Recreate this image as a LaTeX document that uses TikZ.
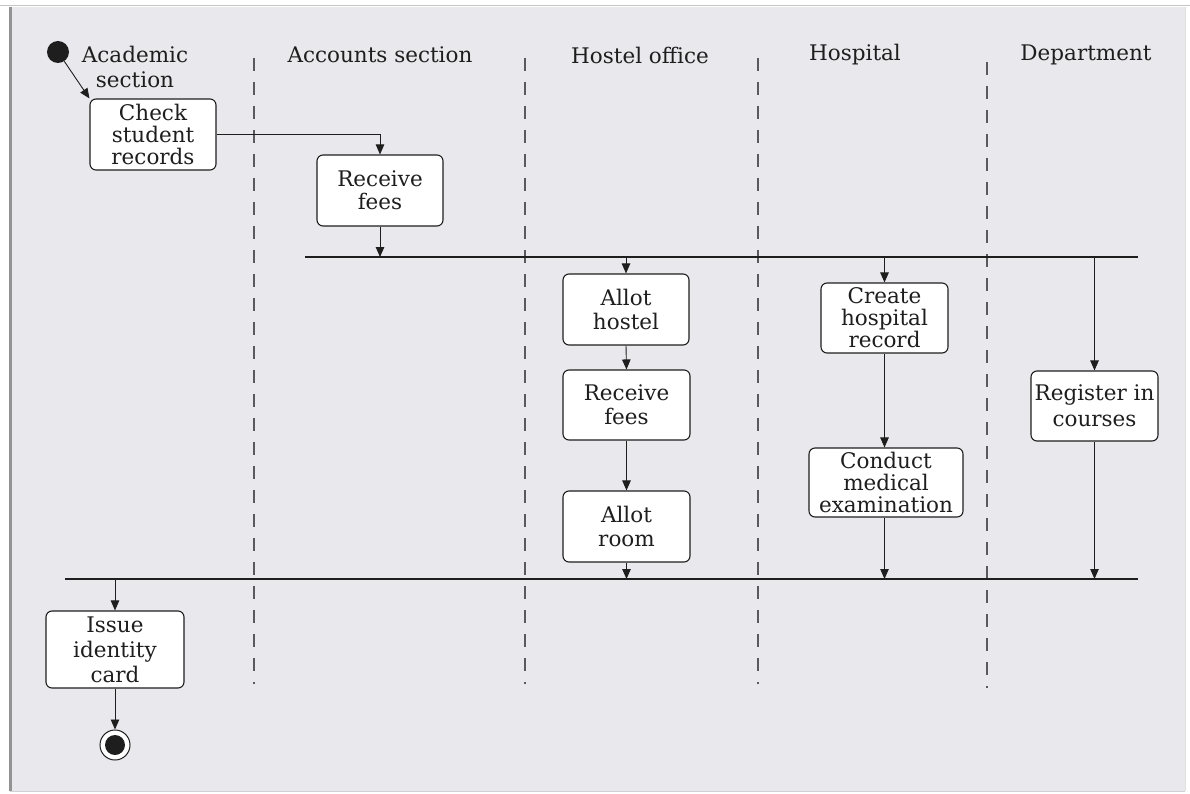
\documentclass[tikz,border=0pt]{standalone}
\usepackage{fontspec}
\setmainfont{DejaVu Serif}
\usetikzlibrary{arrows.meta}
\definecolor{bgc}{RGB}{233,232,236}
\definecolor{ink}{RGB}{30,30,30}
\definecolor{lanec}{RGB}{90,90,93}
\begin{document}
\begin{tikzpicture}[x=1pt,y=-1pt,
  act/.style={draw=ink, line width=1.1pt, fill=white, rounded corners=6pt, align=center, inner sep=0pt, font=\fontsize{21.5}{22}\selectfont, text=ink},
  hdr/.style={align=center, inner sep=0pt, font=\fontsize{21.5}{25}\selectfont, text=ink},
  flow/.style={draw=ink, line width=0.9pt, -{Triangle[length=10pt,width=8.5pt]}},
  lane/.style={draw=lanec, line width=1.3pt, dash pattern=on 13pt off 11pt},
  bar/.style={draw=ink, line width=1.8pt},
]
\useasboundingbox (0,0) rectangle (1190,794);
% frame
\fill[white] (0,0) rectangle (1190,794);
\fill[bgc] (10,7) rectangle (1185,791);
\draw[gray!45, line width=1pt] (0,5.5) -- (1190,5.5);
\draw[gray!85, line width=3.5pt] (10.5,7) -- (10.5,791);
\draw[gray!25, line width=1pt] (1185,7) -- (1185,791);
\draw[gray!35, line width=1pt] (10,791) -- (1185,791);

% swimlane separators
\draw[lane] (254,58) -- (254,684);
\draw[lane] (525,58) -- (525,684);
\draw[lane] (758,58) -- (758,684);
\draw[lane] (987,62) -- (987,688);

% headers
\node[hdr] (hAc) at (135,67) {Academic\\section};
\node[hdr] (hAcc) at (380,55) {Accounts section};
\node[hdr] (hHo) at (640,55) {Hostel office};
\node[hdr] (hHp) at (855,55) {Hospital};
\node[hdr] (hDp) at (1086,55) {Department};

% initial and final
\node[circle, fill=ink, minimum size=22pt, inner sep=0pt] (init) at (58,52) {};
\node[circle, draw=ink, line width=1pt, fill=white, minimum size=30pt, inner sep=0pt] (final) at (115,745) {};
\fill[ink] (final.center) circle (10pt);

% activities
\node[act, minimum width=126pt, minimum height=71pt] (check) at (153,134.5) {Check\\student\\records};
\node[act, minimum width=126pt, minimum height=71pt, font=\fontsize{21.5}{23}\selectfont] (recv1) at (380,190.5) {Receive\\fees};
\node[act, minimum width=126pt, minimum height=71pt, font=\fontsize{21.5}{24}\selectfont] (hostel) at (626,309.5) {Allot\\hostel};
\node[act, minimum width=127pt, minimum height=70pt, font=\fontsize{21.5}{24}\selectfont] (recv2) at (626.5,405) {Receive\\fees};
\node[act, minimum width=127pt, minimum height=71pt, font=\fontsize{21.5}{24}\selectfont] (room) at (626.5,526.5) {Allot\\room};
\node[act, minimum width=127pt, minimum height=70pt] (hosprec) at (884.5,318) {Create\\hospital\\record};
\node[act, minimum width=154pt, minimum height=69pt] (exam) at (886,482.5) {Conduct\\medical\\examination};
\node[act, minimum width=127pt, minimum height=70pt, font=\fontsize{21.5}{26}\selectfont] (register) at (1094.5,406) {Register in\\courses};
\node[act, minimum width=138pt, minimum height=77pt, font=\fontsize{21.5}{25}\selectfont] (issue) at (115,649.5) {Issue\\identity\\card};

% fork / join bars
\coordinate (b1L) at (305,257);
\coordinate (b1R) at (1138,257);
\coordinate (b2L) at (65,579);
\coordinate (b2R) at (1138,579);
\draw[bar] (b1L) -- (b1R);
\draw[bar] (b2L) -- (b2R);

% connectors
\draw[flow] (init) -- (check.north west);
\draw[flow] (check.east) -| (recv1.north);
\draw[flow] (recv1.south) -- (recv1.south |- b1L);
\draw[flow] (hostel.north |- b1L) -- (hostel.north);
\draw[flow] (hosprec.north |- b1L) -- (hosprec.north);
\draw[flow] (register.north |- b1L) -- (register.north);
\draw[flow] (hostel.south) -- (recv2.north);
\draw[flow] (recv2.south) -- (room.north);
\draw[flow] (hosprec.south) -- (exam.north -| hosprec.south);
\draw[flow] (room.south) -- (room.south |- b2L);
\draw[flow] (exam.south -| hosprec.south) -- (hosprec.south |- b2L);
\draw[flow] (register.south) -- (register.south |- b2L);
\draw[flow] (issue.north |- b2L) -- (issue.north);
\draw[flow] (issue.south) -- (final.north);
\end{tikzpicture}
\end{document}
